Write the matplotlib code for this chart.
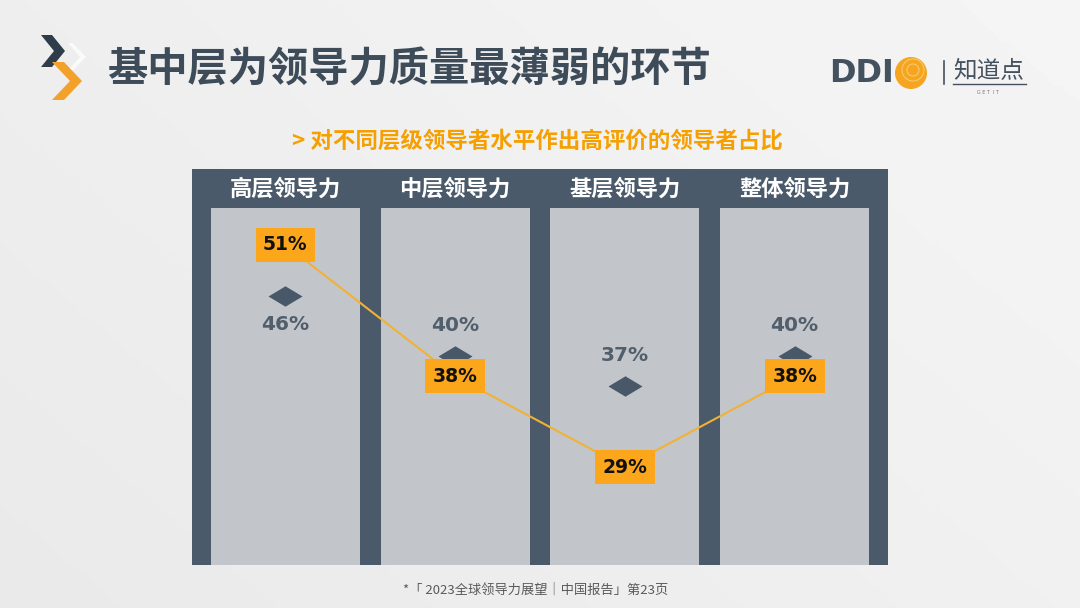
import matplotlib
matplotlib.use('Agg')
import matplotlib.pyplot as plt
import matplotlib.transforms as mtransforms
import numpy as np
from matplotlib.path import Path
from matplotlib.patches import Polygon, Circle

plt.rcParams['font.family'] = ['Noto Sans CJK SC', 'DejaVu Sans']

# ---- data ----
categories = ['高层领导力', '中层领导力', '基层领导力', '整体领导力']
china_values = [51, 38, 29, 38]     # orange boxes (line)
global_values = [46, 40, 37, 40]    # diamonds
label_below = [True, False, False, False]

title = '基中层为领导力质量最薄弱的环节'
subtitle = '> 对不同层级领导者水平作出高评价的领导者占比'
footer = '*「 2023全球领导力展望｜中国报告」第23页'

W, H = 1080, 608
fig = plt.figure(figsize=(10.8, 6.08), dpi=100)

# ---- background / decorations ----
bg = fig.add_axes([0, 0, 1, 1])
bg.set_xlim(0, W); bg.set_ylim(H, 0); bg.axis('off')
X, Y = np.meshgrid(np.linspace(0, 1, 200), np.linspace(0, 1, 120))
G = 0.915 + 0.045 * (X * 0.6 + (1 - Y) * 0.4)
bg.imshow(G, cmap='gray', vmin=0, vmax=1, extent=[0, W, H, 0], aspect='auto', zorder=0)

dark = '#3E4B59'
# chevrons logo
bg.add_patch(Polygon([(68, 43), (73, 43), (86, 57), (73, 70), (68, 70), (80, 57)],
                     closed=True, fc='#FAFAFA', ec='none', zorder=2))
bg.add_patch(Polygon([(41, 35), (52, 35), (65, 51), (52, 67), (41, 67), (54, 51)],
                     closed=True, fc='#2F3C4A', ec='none', zorder=2))
bg.add_patch(Polygon([(52, 62), (64, 62), (82, 81), (64, 100), (52, 100), (70, 81)],
                     closed=True, fc='#F2A22B', ec='none', zorder=3))

bg.text(107, 70, title, fontsize=29, fontweight='bold', color=dark,
        ha='left', va='center', zorder=3)

# DDI logo
bg.text(829, 73, 'DDI', fontsize=23, fontweight='bold', color='#44515E',
        family='DejaVu Sans', ha='left', va='center', zorder=3)
bg.add_patch(Circle((911, 73), 16, fc='#F5A51F', ec='none', zorder=3))
for r in (6, 11):
    bg.add_patch(Circle((913, 70), r, fc='none', ec='#F9C96A', lw=0.8, zorder=4))
bg.plot([944, 944], [61, 84], color='#44515E', lw=1.2, zorder=3)
bg.text(953, 71, '知道点', fontsize=17, color='#44515E', ha='left', va='center', zorder=3)
bg.plot([953, 1026], [84, 84], color='#44515E', lw=1.0, zorder=3)
bg.text(988, 93, 'G E T  I T', fontsize=3.5, color='#777777', ha='center', va='center',
        family='DejaVu Sans', zorder=3)

bg.text(537, 141, subtitle, fontsize=16.2, fontweight='bold', color='#F5A000',
        ha='center', va='center', zorder=3)
bg.text(536, 590, footer, fontsize=9.5, color='#5A5A5A', ha='center', va='center', zorder=3)

# ---- main chart ----
px_per_unit = 10.1
y_ref_px, y_ref_val = 245, 51
top_px, bottom_px, coltop_px = 169, 565, 208
ymin = y_ref_val - (bottom_px - y_ref_px) / px_per_unit
ymax = y_ref_val + (y_ref_px - top_px) / px_per_unit
col_top = y_ref_val + (y_ref_px - coltop_px) / px_per_unit

ax = fig.add_axes([192 / W, (H - bottom_px) / H, 696 / W, (bottom_px - top_px) / H])
ax.set_xlim(-0.55, 3.55)
ax.set_ylim(ymin, ymax)
ax.set_facecolor('#4A5A6A')
for s in ax.spines.values():
    s.set_visible(False)
ax.set_xticks([]); ax.set_yticks([])

x = np.arange(len(categories))
ax.bar(x, col_top - ymin, bottom=ymin, width=0.877, color='#C2C6CB', zorder=1)

trans = mtransforms.blended_transform_factory(ax.transData, ax.transAxes)
for i, cat in enumerate(categories):
    ax.text(i, 0.95, cat, transform=trans, ha='center', va='center',
            color='white', fontsize=16, fontweight='bold', zorder=2)

diamond = Path([(-1, 0), (0, 0.6), (1, 0), (0, -0.6), (-1, 0)],
               [Path.MOVETO, Path.LINETO, Path.LINETO, Path.LINETO, Path.CLOSEPOLY])
ax.plot(x, global_values, ls='none', marker=diamond, ms=24.5, color='#485868',
        mec='none', zorder=3)
for i, v in enumerate(global_values):
    off = -21 if label_below[i] else 22
    ax.annotate(f'{v}%', xy=(i, v), xytext=(0, off), textcoords='offset points',
                ha='center', va='center', fontsize=14.5, color='#515F6C',
                fontweight='bold', family='DejaVu Sans', zorder=3)

ax.plot(x, china_values, color='#F2B134', lw=1.5, zorder=4)
for i, v in enumerate(china_values):
    ax.text(i, v, f'{v}%', ha='center', va='center', fontsize=13.5,
            fontweight='bold', color='#111111', family='DejaVu Sans',
            bbox=dict(boxstyle='square,pad=0.4', fc='#FBA61B', ec='none'), zorder=5)

fig.savefig('out.png', dpi=100)
